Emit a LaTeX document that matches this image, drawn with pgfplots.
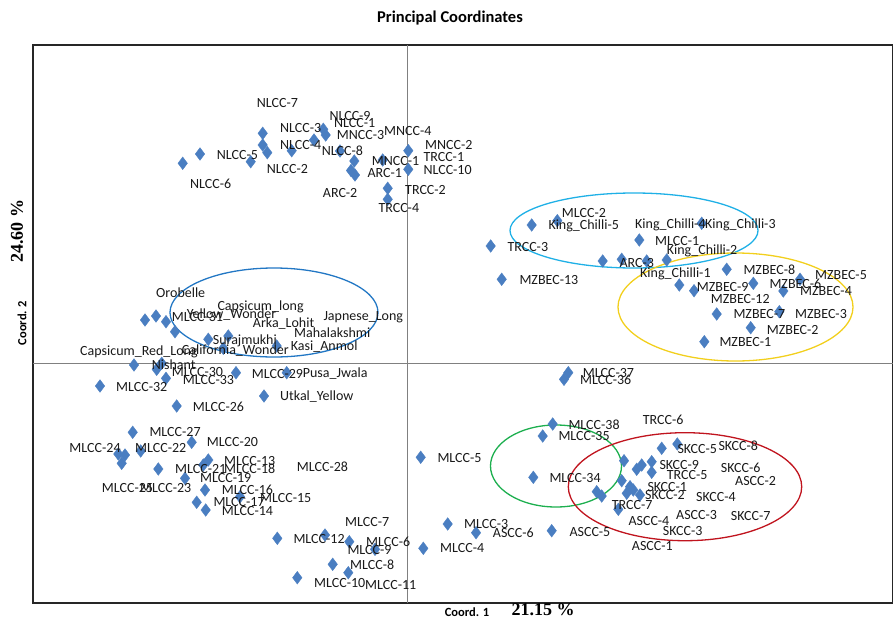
\documentclass[border=0pt]{standalone}
\usepackage{pgfplots}
\pgfplotsset{compat=1.18}
\usepackage{fontspec}
\setmainfont{Carlito}
\newfontfamily\timesfont{Liberation Serif}
\definecolor{mk}{HTML}{4A7EC1}
\definecolor{elcyan}{HTML}{1FB0E6}
\definecolor{elyellow}{HTML}{F2CF1D}
\definecolor{elblue}{HTML}{2277C4}
\definecolor{elgreen}{HTML}{1DAF4F}
\definecolor{elred}{HTML}{C0141E}

% positions in pixels (y grows downwards)
\pgfplotstableread{
x y
182.7 163.3
200.0 154.0
262.7 133.3
262.7 145.0
267.3 152.7
250.7 161.7
291.7 150.7
314.0 140.0
323.3 129.3
325.7 135.0
340.0 151.0
354.3 161.0
351.0 170.5
355.0 175.0
382.7 160.0
408.3 150.7
408.3 169.3
387.7 188.3
387.7 199.3
490.7 246.0
531.7 225.0
557.3 220.7
639.3 240.0
701.7 223.3
602.7 261.0
621.7 259.3
646.7 261.0
666.7 260.0
501.7 279.3
726.7 269.3
679.3 285.0
694.0 290.7
753.3 283.3
800.0 279.3
783.3 291.0
716.7 314.0
779.3 311.7
750.7 327.7
704.3 341.7
145.0 320.0
156.0 316.0
166.0 321.7
175.0 331.7
208.3 339.3
228.3 336.0
223.3 348.3
276.7 346.0
134.0 365.0
156.7 369.3
161.7 363.3
166.0 378.3
236.0 372.7
286.7 372.7
100.0 386.0
264.0 396.0
176.7 406.0
132.7 432.3
191.7 442.3
118.3 454.0
125.0 455.0
121.7 463.3
140.7 451.0
208.3 460.0
203.3 465.0
158.3 469.0
185.0 478.3
205.0 490.0
196.7 502.3
205.7 510.0
240.0 496.7
277.3 538.3
325.0 535.0
349.3 541.7
375.0 549.3
332.7 564.3
348.3 572.7
297.3 577.7
568.3 372.7
564.0 379.3
552.7 424.0
542.7 436.0
420.7 457.3
533.3 477.3
624.0 460.7
661.7 448.3
677.3 444.0
636.7 469.3
641.7 465.0
651.7 461.7
651.7 472.3
621.7 480.7
596.7 491.7
601.7 496.0
630.0 486.7
633.3 490.0
626.7 493.3
640.0 495.0
618.3 509.3
447.7 524.0
476.0 532.7
551.7 530.7
423.3 548.3
}\points

\pgfplotstableread{
x y l
256.7 103.3 NLCC-7
329.3 116.0 NLCC-9
334.0 123.3 NLCC-1
280.0 128.3 NLCC-3
384.0 130.7 MNCC-4
336.7 135.0 MNCC-3
280.0 145.0 NLCC-4
321.7 150.7 NLCC-8
425.0 145.0 MNCC-2
216.7 155.0 NLCC-5
423.3 157.3 TRCC-1
371.7 160.7 MNCC-1
266.7 169.3 NLCC-2
367.3 172.7 ARC-1
423.3 170.0 NLCC-10
190.0 184.0 NLCC-6
322.7 192.7 ARC-2
405.0 190.0 TRCC-2
378.3 208.3 TRCC-4
561.7 212.7 MLCC-2
548.3 225.7 King\_Chilli-5
635.0 225.0 King\_Chilli-4
705.0 225.0 King\_Chilli-3
507.3 246.7 TRCC-3
655.0 240.7 MLCC-1
666.7 250.7 King\_Chilli-2
619.3 262.7 ARC-3
640.0 274.3 King\_Chilli-1
743.3 270.0 MZBEC-8
815.0 275.0 MZBEC-5
519.3 280.0 MZBEC-13
696.7 286.7 MZBEC-9
769.3 284.3 MZBEC-6
800.0 291.0 MZBEC-4
710.7 299.0 MZBEC-12
733.3 314.0 MZBEC-7
795.0 314.0 MZBEC-3
766.7 330.0 MZBEC-2
719.3 342.3 MZBEC-1
156.0 292.7 Orobelle
217.3 306.7 Capsicum\_long
186.7 315.0 Yellow\_Wonder
171.7 316.7 MLCC-31
323.3 317.7 Japnese\_Long
252.7 323.3 Arka\_Lohit
294.0 332.7 Mahalakshmi
212.7 340.7 Surajmukhi
290.7 346.7 Kasi\_Anmol
181.7 350.7 California\_Wonder
80.0 351.7 Capsicum\_Red\_Long
151.7 364.3 Nishant
171.7 371.7 MLCC-30
251.7 374.0 MLCC-29
302.7 374.0 Pusa\_Jwala
182.7 380.0 MLCC-33
116.0 387.3 MLCC-32
280.0 396.7 Utkal\_Yellow
192.7 406.7 MLCC-26
149.3 432.3 MLCC-27
206.7 442.3 MLCC-20
69.3 447.7 MLCC-24
135.0 447.7 MLCC-22
224.0 460.7 MLCC-13
296.7 466.7 MLCC-28
175.0 469.0 MLCC-21
224.0 469.0 MLCC-18
200.0 478.3 MLCC-19
101.7 488.3 MLCC-25
140.0 488.3 MLCC-23
221.7 490.0 MLCC-16
213.3 501.7 MLCC-17
260.0 498.3 MLCC-15
221.7 511.0 MLCC-14
345.0 521.7 MLCC-7
293.3 539.3 MLCC-12
366.0 541.7 MLCC-6
347.3 550.0 MLCC-9
350.0 565.0 MLCC-8
314.0 583.3 MLCC-10
365.0 585.0 MLCC-11
582.7 373.3 MLCC-37
580.0 380.0 MLCC-36
568.3 425.0 MLCC-38
642.7 420.0 TRCC-6
558.3 436.0 MLCC-35
677.3 449.3 SKCC-5
718.3 446.0 SKCC-8
437.3 458.3 MLCC-5
659.3 465.0 SKCC-9
720.7 468.3 SKCC-6
666.7 475.0 TRCC-5
549.3 478.3 MLCC-34
735.0 480.7 ASCC-2
647.3 486.7 SKCC-1
645.0 495.0 SKCC-2
696.0 496.7 SKCC-4
611.7 505.0 TRCC-7
676.0 515.0 ASCC-3
730.7 516.0 SKCC-7
628.3 520.7 ASCC-4
464.0 524.0 MLCC-3
662.7 530.7 SKCC-3
492.7 533.3 ASCC-6
569.3 531.7 ASCC-5
440.0 548.3 MLCC-4
631.7 546.0 ASCC-1
}\labels

\begin{document}
\begin{tikzpicture}
\begin{axis}[
scale only axis,
width=860pt,
height=558pt,
xmin=33, xmax=893,
ymin=45, ymax=603,
y dir=reverse,
xtick=\empty,
ytick=\empty,
axis line style={black!85, line width=1.3pt},
clip=false
]

\draw[gray, line width=0.8pt] (axis cs:407,45) -- (axis cs:407,603);
\draw[gray, line width=0.8pt] (axis cs:33,363) -- (axis cs:893,363);

\addplot [only marks, mark=diamond*, mark size=6.3pt, color=mk,
  mark options={draw=mk, fill=mk}] table [x=x, y=y] {\points};

\addplot [only marks, mark=none, nodes near coords,
  point meta=explicit symbolic,
  nodes near coords style={anchor=west, inner sep=0pt, text=black!90,
    font=\fontsize{14}{16}\selectfont}]
  table [x=x, y=y, meta=l] {\labels};

\draw[elcyan, line width=1.3pt] (axis cs:634,230.5) ellipse [x radius=124pt, y radius=37.5pt];
\draw[elyellow, line width=1.3pt] (axis cs:735.5,307) ellipse [x radius=117.5pt, y radius=54pt];
\draw[elblue, line width=1.3pt] (axis cs:274,312.5) ellipse [x radius=104pt, y radius=44.5pt];
\draw[elgreen, line width=1.3pt] (axis cs:556,466) ellipse [x radius=65.5pt, y radius=41pt];
\draw[elred, line width=1.3pt] (axis cs:685,486.7) ellipse [x radius=116.7pt, y radius=54pt];

\node[font=\bfseries\fontsize{16.5}{18}\selectfont] at (axis cs:450,18) {Principal Coordinates};
\node[font=\bfseries\fontsize{12.5}{14}\selectfont] at (axis cs:467,612) {Coord. 1};
\node[font=\timesfont\bfseries\fontsize{18}{20}\selectfont] at (axis cs:543,610) {21.15 \%};
\node[rotate=90, font=\bfseries\fontsize{12.5}{14}\selectfont] at (axis cs:22,323) {Coord. 2};
\node[rotate=90, font=\timesfont\bfseries\fontsize{18}{20}\selectfont] at (axis cs:17,231) {24.60 \%};
\end{axis}
\pgfresetboundingbox
\path[use as bounding box] ([xshift=-33pt,yshift=-15pt]current axis.south west)
  rectangle ([yshift=45pt]current axis.north east);
\end{tikzpicture}
\end{document}
